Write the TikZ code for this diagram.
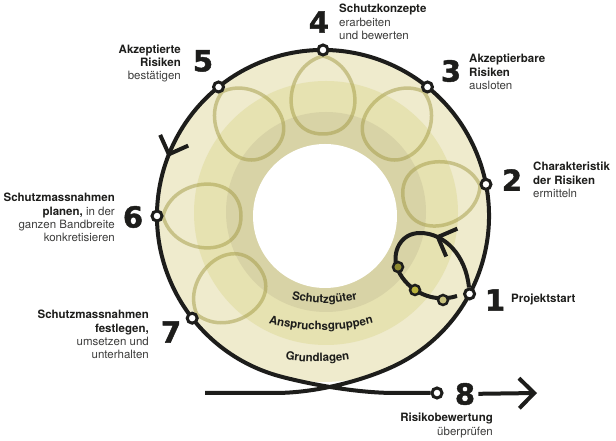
\documentclass[tikz,border=0pt]{standalone}
\usepackage{fontspec}
\setmainfont{TeX Gyre Heros}
\newfontfamily\chiffrefont[BoldFeatures={FakeBold=1.5}]{DejaVu Sans}
\usepackage{tikz}
\usetikzlibrary{calc}
\usetikzlibrary{arrows.meta}
\usetikzlibrary{decorations.markings}
\usetikzlibrary{decorations.text}
\usepackage{xcolor}
\definecolor{bandeA}{HTML}{EFEBCD}
\definecolor{bandeB}{HTML}{E6E2B1}
\definecolor{bandeC}{HTML}{D8D3A6}
\definecolor{olive}{HTML}{A39B45}
\definecolor{encre}{HTML}{1D1D1B}
\definecolor{gristexte}{HTML}{3C3C3B}
\definecolor{pointA}{HTML}{8E8A30}
\definecolor{pointB}{HTML}{B9B23C}
\definecolor{pointC}{HTML}{C8C27E}
\newcommand{\etapefont}{\fontsize{11.5}{13.3}\selectfont}
\newcommand{\bandefont}{\bfseries\fontsize{11.5}{12}\selectfont}
\newcommand{\gras}[1]{{\bfseries\color{encre}#1}}

\begin{document}
\begin{tikzpicture}[x=1pt, y=1pt, >={Straight Barb[length=15pt, width=30pt]},
    station/.style={circle, draw=encre, line width=3pt, fill=white, minimum size=10pt, inner sep=0pt},
    pastille/.style={circle, draw=encre, line width=2.5pt, minimum size=10pt, inner sep=0pt},
    numero/.style={font=\chiffrefont\bfseries\fontsize{29}{29}\selectfont, text=encre, inner sep=3pt},
    texte/.style={font=\etapefont, text=gristexte, inner sep=0pt},
    trait/.style={draw=encre, line width=4pt},
    boucle/.style={draw=olive, line width=3.5pt, draw opacity=.5}]
    \useasboundingbox (0,0) rectangle (616,441);
    \coordinate (centre) at (323,225);
    % anneau
    \fill[bandeA] (centre) circle[radius=166];
    \fill[bandeB] (326,228) circle[radius=132];
    \fill[bandeC] (326,229) circle[radius=100];
    \fill[white] (325,225) circle[radius=72];
    % boucles
    \foreach \a in {11,51,90,129,180,218}
        \draw[boucle, shift={(centre)}, rotate=\a] (160,0) .. controls (150,-40) and (82,-45) .. (82,0) .. controls (82,45) and (150,40) .. (160,0);
    % noms des bandes
    \path[decorate, decoration={text along path, text align=center, text color=encre, text={|\bandefont|Schutzgüter}}]
        ($(324.5,278)+(250:140)$) arc[start angle=250, end angle=290, radius=140];
    \path[decorate, decoration={text along path, text align=center, text color=encre, text={|\bandefont|Anspruchsgruppen}}]
        ($(321,311)+(253:200)$) arc[start angle=253, end angle=287, radius=200];
    \path[decorate, decoration={text along path, text align=center, text color=encre, text={|\bandefont|Grundlagen}}]
        ($(317.5,279)+(255:200)$) arc[start angle=255, end angle=285, radius=200];
    % cercle du processus
    \node[station] (s8) at (437,48) {};
    \coordinate (debut) at (205,48);
    \draw[trait, decoration={markings, mark=at position .662 with {\arrow{>}}}, postaction={decorate}]
        (debut) -- (275,48) .. controls (315,48) and (361.5,59.8) .. ($(centre)+(-65:166)$)
        arc[start angle=-65, end angle=255, radius=166]
        .. controls (313.8,55.6) and (360,48) .. (395,48) -- (s8);
    \foreach \n/\a in {1/-28,2/11,3/51,4/90,5/129,6/180,7/218}
        \node[station] (s\n) at ($(centre)+(\a:166)$) {};
    % petite boucle du départ
    \draw[trait, decoration={markings, mark=at position .32 with {\arrow{>}}}, postaction={decorate}]
        (s1) .. controls (466,185) and (445,208) .. (420,208) .. controls (400,208) and (392,188) .. (397,174)
        .. controls (403,155) and (428,136) .. (457,145);
    \node[pastille, fill=pointA] (p1) at (398,174) {};
    \node[pastille, fill=pointB] (p2) at (415,151) {};
    \node[pastille, fill=pointC] (p3) at (443,141) {};
    % numéros
    \node[numero] (n1) at (495,141) {1};
    \node[numero] (n2) at (512,261) {2};
    \node[numero] (n3) at (451,370) {3};
    \node[numero] (n4) at (319,419) {4};
    \node[numero] (n5) at (203,380) {5};
    \node[numero] (n6) at (133,224) {6};
    \node[numero] (n7) at (171,109) {7};
    \node[numero] (n8) at (465,47) {8};
    \coordinate (fin) at (537,48);
    \draw[trait, ->] (n8) -- (fin);
    % textes
    \node[texte, anchor=base west] (t1) at (511,138) {\gras{Projektstart}};
    \node[texte, anchor=north west, align=left] (t2) at (533,279) {\gras{Charakteristik}\\\gras{der Risiken}\\ermitteln};
    \node[texte, anchor=north west, align=left] (t3) at (469,387) {\gras{Akzeptierbare}\\\gras{Risiken}\\ausloten};
    \node[texte, anchor=north west, align=left] (t4) at (339,437) {\gras{Schutzkonzepte}\\erarbeiten\\und bewerten};
    \node[texte, anchor=north east, align=right] (t5) at (181,396.5) {\gras{Akzeptierte}\\\gras{Risiken}\\bestätigen};
    \node[texte, anchor=north east, align=right] (t6) at (115,248) {\gras{Schutzmassnahmen}\\\gras{planen,} in der\\ganzen Bandbreite\\konkretisieren};
    \node[texte, anchor=north east, align=right] (t7) at (149,131) {\gras{Schutzmassnahmen}\\\gras{festlegen,}\\umsetzen und\\unterhalten};
    \node[texte, anchor=north east, align=right] (t8) at (493,28) {\gras{Risikobewertung}\\überprüfen};
\end{tikzpicture}
\end{document}
